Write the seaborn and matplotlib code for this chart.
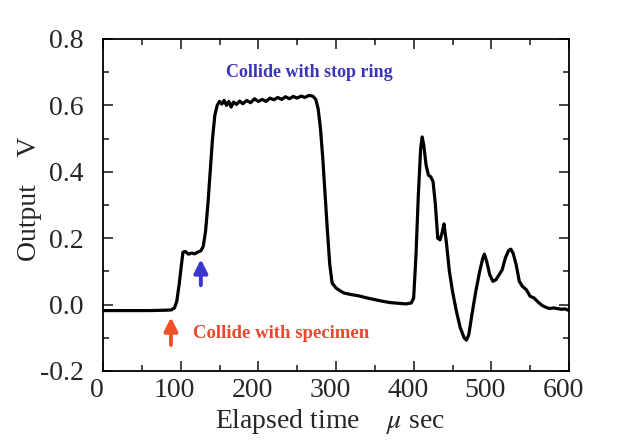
import numpy as np
import pandas as pd
import matplotlib
matplotlib.use("Agg")
import matplotlib.pyplot as plt
import matplotlib.transforms as mtransforms
import seaborn as sns
from matplotlib.ticker import MultipleLocator

# Signal
time_us = [0, 20, 40, 60, 80, 88, 92, 95, 98, 101, 103, 106, 110, 114, 118, 122, 126, 129,
           132, 135, 138, 141, 144, 147, 150, 153, 156, 159, 162, 165, 168, 172, 176, 180,
           185, 190, 195, 200, 205, 210, 215, 220, 225, 230, 235, 240, 245, 250, 255, 260,
           265, 270, 274, 277, 280, 283, 286, 289, 292, 295, 300, 305, 310, 320, 330, 340,
           350, 360, 370, 380, 390, 397, 400, 403, 406, 409, 411, 413, 416, 419, 422, 425,
           428, 431, 434, 437, 439, 442, 446, 450, 455, 460, 465, 468, 471, 475, 480, 485,
           489, 491, 494, 498, 502, 506, 510, 514, 518, 522, 525, 528, 532, 536, 540, 545,
           550, 555, 560, 565, 570, 575, 580, 585, 590, 595, 600]
output_v = [-0.018, -0.018, -0.018, -0.018, -0.017, -0.016, -0.010, 0.010, 0.060, 0.120,
            0.158, 0.160, 0.152, 0.155, 0.153, 0.158, 0.162, 0.175, 0.22, 0.30, 0.40, 0.50,
            0.57, 0.600, 0.612, 0.604, 0.615, 0.600, 0.612, 0.595, 0.610, 0.603, 0.613,
            0.605, 0.615, 0.608, 0.620, 0.612, 0.618, 0.612, 0.622, 0.617, 0.624, 0.618,
            0.626, 0.620, 0.627, 0.622, 0.628, 0.624, 0.630, 0.628, 0.618, 0.59, 0.53, 0.44,
            0.33, 0.22, 0.12, 0.065, 0.050, 0.042, 0.035, 0.030, 0.026, 0.020, 0.015, 0.010,
            0.006, 0.004, 0.002, 0.005, 0.020, 0.15, 0.33, 0.47, 0.505, 0.48, 0.42, 0.39,
            0.385, 0.37, 0.30, 0.20, 0.195, 0.22, 0.243, 0.19, 0.10, 0.04, -0.02, -0.07,
            -0.10, -0.107, -0.09, -0.03, 0.04, 0.10, 0.14, 0.152, 0.13, 0.09, 0.070, 0.075,
            0.090, 0.105, 0.140, 0.162, 0.167, 0.155, 0.12, 0.07, 0.055, 0.045, 0.025, 0.020,
            0.008, -0.002, -0.008, -0.012, -0.010, -0.012, -0.014, -0.013, -0.018]

xticks = [0, 100, 200, 300, 400, 500, 600]
yticks = [-0.2, 0.0, 0.2, 0.4, 0.6, 0.8]
ytick_labels = ["-0.2", "0.0", "0.2", "0.4", "0.6", "0.8"]

df = pd.DataFrame({"time": time_us, "output": output_v})

sns.set_style("ticks")
plt.rcParams['font.family'] = ['Liberation Serif', 'DejaVu Serif']
plt.rcParams['mathtext.fontset'] = 'stix'

fig = plt.figure(figsize=(6.24, 4.40), dpi=100)
ax = fig.add_axes([103 / 624, 1 - 371 / 440, 466 / 624, 332 / 440])

sns.lineplot(data=df, x="time", y="output", color="black", linewidth=2.3, ax=ax)

ax.set_xlim(0, 600)
ax.set_ylim(-0.2, 0.8)
ax.set_xticks(xticks)
ax.set_yticks(yticks)
ax.set_xticklabels([str(t) for t in xticks])
ax.set_yticklabels(ytick_labels)
ax.xaxis.set_minor_locator(MultipleLocator(50))
ax.yaxis.set_minor_locator(MultipleLocator(0.1))
ax.tick_params(which="both", direction="in", top=True, right=True, labelsize=20, width=1.2)
ax.tick_params(axis="x", which="major", pad=5)
ax.tick_params(axis="y", which="major", pad=14)
ax.tick_params(which="major", length=7)
ax.tick_params(which="minor", length=4)
for s in ax.spines.values():
    s.set_linewidth(1.3)
    s.set_color("black")

# x tick labels sit a little left of their ticks in the original
shift = mtransforms.ScaledTranslation(-0.06, 0, fig.dpi_scale_trans)
for lbl in ax.get_xticklabels():
    lbl.set_transform(lbl.get_transform() + shift)

ax.set_xlabel(r"Elapsed time    $\mu$ sec", fontsize=20)
ax.set_ylabel("Output    V", fontsize=20)
ax.xaxis.set_label_coords(0.487, -0.108)
ax.yaxis.set_label_coords(-0.131, 0.52)

# annotations
ax.text(265, 0.70, "Collide with stop ring", color="#3a36b4", fontsize=13,
        fontweight="bold", ha="center", va="center")
ax.annotate("", xy=(126, 0.145), xytext=(126, 0.05),
            arrowprops=dict(arrowstyle="-|>,head_width=0.4,head_length=0.8",
                            color="#3a36d0", lw=2.8))
ax.text(116, -0.086, "Collide with specimen", color="#e8482c", fontsize=13.5,
        fontweight="bold", ha="left", va="center")
ax.annotate("", xy=(87.5, -0.03), xytext=(87.5, -0.13),
            arrowprops=dict(arrowstyle="-|>,head_width=0.4,head_length=0.8",
                            color="#f0502a", lw=2.8))

fig.savefig("out.png", dpi=100)
